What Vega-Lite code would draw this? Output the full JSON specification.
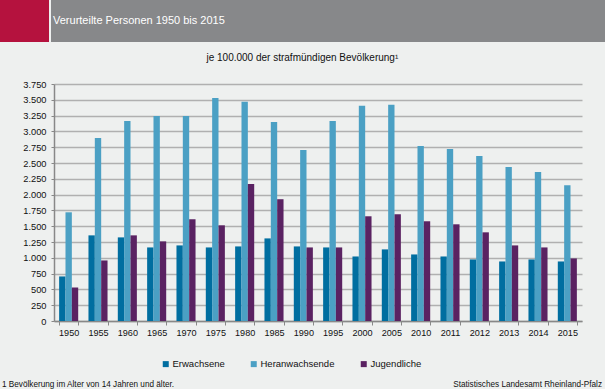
{
  "$schema": "https://vega.github.io/schema/vega-lite/v6.json",
  "background": "#eef0ef",
  "padding": 0,
  "spacing": 11,
  "resolve": {"scale": {"color": "independent"}, "legend": {"color": "independent"}},
  "config": {
    "view": {"stroke": null},
    "font": "Liberation Sans",
    "text": {"font": "Liberation Sans"}
  },
  "vconcat": [
    {
      "spacing": 2,
      "hconcat": [
        {
          "width": 49,
          "height": 42,
          "view": {"fill": "#b5123e", "stroke": null},
          "data": {"values": [{"label": ""}]},
          "mark": {"type": "text"},
          "encoding": {"text": {"field": "label"}}
        },
        {
          "width": 554,
          "height": 42,
          "view": {"fill": "#87888a", "stroke": null},
          "data": {"values": [{"pos": "l", "label": "Verurteilte Personen 1950 bis 2015"}]},
          "mark": {"type": "text", "align": "left", "baseline": "middle", "dx": 2, "color": "#ffffff", "fontSize": 11},
          "encoding": {
            "x": {"field": "pos", "type": "nominal", "scale": {"type": "point", "padding": 0, "align": 0}, "axis": null},
            "text": {"field": "label"}
          }
        }
      ]
    },
    {
      "spacing": 0,
      "resolve": {"scale": {"color": "independent"}, "legend": {"color": "independent"}},
      "hconcat": [
        {
          "width": 22,
          "height": 1,
          "data": {"values": [{"label": ""}]},
          "mark": {"type": "text"},
          "encoding": {"text": {"field": "label"}}
        },
        {
          "width": 528,
          "height": 237,
          "title": {
            "text": "je 100.000 der strafmündigen Bevölkerung¹",
            "frame": "bounds",
            "anchor": "middle",
            "fontSize": 10,
            "fontWeight": "normal",
            "color": "#111111",
            "offset": 17
          },
          "data": {
            "values": [
              {"Jahr": "1950", "Gruppe": "Erwachsene", "Wert": 705},
              {"Jahr": "1950", "Gruppe": "Heranwachsende", "Wert": 1720},
              {"Jahr": "1950", "Gruppe": "Jugendliche", "Wert": 530},
              {"Jahr": "1955", "Gruppe": "Erwachsene", "Wert": 1355},
              {"Jahr": "1955", "Gruppe": "Heranwachsende", "Wert": 2895},
              {"Jahr": "1955", "Gruppe": "Jugendliche", "Wert": 958},
              {"Jahr": "1960", "Gruppe": "Erwachsene", "Wert": 1323},
              {"Jahr": "1960", "Gruppe": "Heranwachsende", "Wert": 3166},
              {"Jahr": "1960", "Gruppe": "Jugendliche", "Wert": 1355},
              {"Jahr": "1965", "Gruppe": "Erwachsene", "Wert": 1164},
              {"Jahr": "1965", "Gruppe": "Heranwachsende", "Wert": 3245},
              {"Jahr": "1965", "Gruppe": "Jugendliche", "Wert": 1260},
              {"Jahr": "1970", "Gruppe": "Erwachsene", "Wert": 1196},
              {"Jahr": "1970", "Gruppe": "Heranwachsende", "Wert": 3245},
              {"Jahr": "1970", "Gruppe": "Jugendliche", "Wert": 1610},
              {"Jahr": "1975", "Gruppe": "Erwachsene", "Wert": 1164},
              {"Jahr": "1975", "Gruppe": "Heranwachsende", "Wert": 3530},
              {"Jahr": "1975", "Gruppe": "Jugendliche", "Wert": 1514},
              {"Jahr": "1980", "Gruppe": "Erwachsene", "Wert": 1180},
              {"Jahr": "1980", "Gruppe": "Heranwachsende", "Wert": 3468},
              {"Jahr": "1980", "Gruppe": "Jugendliche", "Wert": 2166},
              {"Jahr": "1985", "Gruppe": "Erwachsene", "Wert": 1307},
              {"Jahr": "1985", "Gruppe": "Heranwachsende", "Wert": 3150},
              {"Jahr": "1985", "Gruppe": "Jugendliche", "Wert": 1927},
              {"Jahr": "1990", "Gruppe": "Erwachsene", "Wert": 1180},
              {"Jahr": "1990", "Gruppe": "Heranwachsende", "Wert": 2706},
              {"Jahr": "1990", "Gruppe": "Jugendliche", "Wert": 1164},
              {"Jahr": "1995", "Gruppe": "Erwachsene", "Wert": 1164},
              {"Jahr": "1995", "Gruppe": "Heranwachsende", "Wert": 3166},
              {"Jahr": "1995", "Gruppe": "Jugendliche", "Wert": 1164},
              {"Jahr": "2000", "Gruppe": "Erwachsene", "Wert": 1021},
              {"Jahr": "2000", "Gruppe": "Heranwachsende", "Wert": 3404},
              {"Jahr": "2000", "Gruppe": "Jugendliche", "Wert": 1657},
              {"Jahr": "2005", "Gruppe": "Erwachsene", "Wert": 1133},
              {"Jahr": "2005", "Gruppe": "Heranwachsende", "Wert": 3420},
              {"Jahr": "2005", "Gruppe": "Jugendliche", "Wert": 1689},
              {"Jahr": "2010", "Gruppe": "Erwachsene", "Wert": 1053},
              {"Jahr": "2010", "Gruppe": "Heranwachsende", "Wert": 2769},
              {"Jahr": "2010", "Gruppe": "Jugendliche", "Wert": 1578},
              {"Jahr": "2011", "Gruppe": "Erwachsene", "Wert": 1021},
              {"Jahr": "2011", "Gruppe": "Heranwachsende", "Wert": 2721},
              {"Jahr": "2011", "Gruppe": "Jugendliche", "Wert": 1530},
              {"Jahr": "2012", "Gruppe": "Erwachsene", "Wert": 974},
              {"Jahr": "2012", "Gruppe": "Heranwachsende", "Wert": 2610},
              {"Jahr": "2012", "Gruppe": "Jugendliche", "Wert": 1403},
              {"Jahr": "2013", "Gruppe": "Erwachsene", "Wert": 942},
              {"Jahr": "2013", "Gruppe": "Heranwachsende", "Wert": 2435},
              {"Jahr": "2013", "Gruppe": "Jugendliche", "Wert": 1196},
              {"Jahr": "2014", "Gruppe": "Erwachsene", "Wert": 974},
              {"Jahr": "2014", "Gruppe": "Heranwachsende", "Wert": 2356},
              {"Jahr": "2014", "Gruppe": "Jugendliche", "Wert": 1164},
              {"Jahr": "2015", "Gruppe": "Erwachsene", "Wert": 942},
              {"Jahr": "2015", "Gruppe": "Heranwachsende", "Wert": 2149},
              {"Jahr": "2015", "Gruppe": "Jugendliche", "Wert": 990}
            ]
          },
          "mark": {"type": "bar"},
          "encoding": {
            "x": {
              "field": "Jahr",
              "type": "ordinal",
              "sort": null,
              "scale": {"paddingInner": 0.35, "paddingOuter": 0.175},
              "axis": {
                "title": null,
                "labelAngle": 0,
                "tickBand": "extent",
                "tickSize": 4,
                "tickColor": "#888888",
                "domainColor": "#888888",
                "domainWidth": 1.5,
                "labelFontSize": 9.1,
                "labelPadding": 3,
                "labelColor": "#111111",
                "labelFont": "Liberation Sans"
              }
            },
            "xOffset": {
              "field": "Gruppe",
              "sort": ["Erwachsene", "Heranwachsende", "Jugendliche"],
              "scale": {"paddingInner": 0, "paddingOuter": 0}
            },
            "y": {
              "field": "Wert",
              "type": "quantitative",
              "scale": {"domain": [0, 3750], "nice": false},
              "axis": {
                "title": null,
                "values": [0, 250, 500, 750, 1000, 1250, 1500, 1750, 2000, 2250, 2500, 2750, 3000, 3250, 3500, 3750],
                "labelExpr": "replace(format(datum.value, ','), ',', '.')",
                "grid": true,
                "gridColor": "#b0b0b0",
                "gridWidth": 1.5,
                "domainColor": "#888888",
                "domainWidth": 1.5,
                "tickColor": "#888888",
                "tickSize": 3,
                "labelPadding": 5,
                "labelFontSize": 9.3,
                "labelColor": "#111111",
                "labelFont": "Liberation Sans"
              }
            },
            "color": {
              "field": "Gruppe",
              "type": "nominal",
              "scale": {
                "domain": ["Erwachsene", "Heranwachsende", "Jugendliche"],
                "range": ["#006ea0", "#4ba0c4", "#5a2262"]
              },
              "legend": {
                "title": null,
                "orient": "none",
                "legendX": 107,
                "legendY": 275,
                "direction": "horizontal",
                "symbolType": "square",
                "symbolSize": 36,
                "symbolStrokeWidth": 0,
                "labelFontSize": 9.5,
                "labelOffset": 2,
                "columnPadding": 24,
                "padding": 0,
                "labelColor": "#111111",
                "labelFont": "Liberation Sans"
              }
            }
          }
        }
      ]
    },
    {
      "width": 605,
      "height": 6,
      "data": {
        "values": [
          {"pos": "l", "label": "1 Bevölkerung im Alter von 14 Jahren und älter."},
          {"pos": "r", "label": "Statistisches Landesamt Rheinland-Pfalz"}
        ]
      },
      "encoding": {
        "x": {"field": "pos", "type": "nominal", "scale": {"type": "point", "padding": 0, "domain": ["l", "r"]}, "axis": null},
        "text": {"field": "label"}
      },
      "layer": [
        {
          "transform": [{"filter": "datum.pos === 'l'"}],
          "mark": {"type": "text", "align": "left", "baseline": "middle", "dx": 2, "fontSize": 8.2, "color": "#111111"}
        },
        {
          "transform": [{"filter": "datum.pos === 'r'"}],
          "mark": {"type": "text", "align": "right", "baseline": "middle", "dx": -3, "fontSize": 8.2, "color": "#111111"}
        }
      ]
    }
  ]
}
